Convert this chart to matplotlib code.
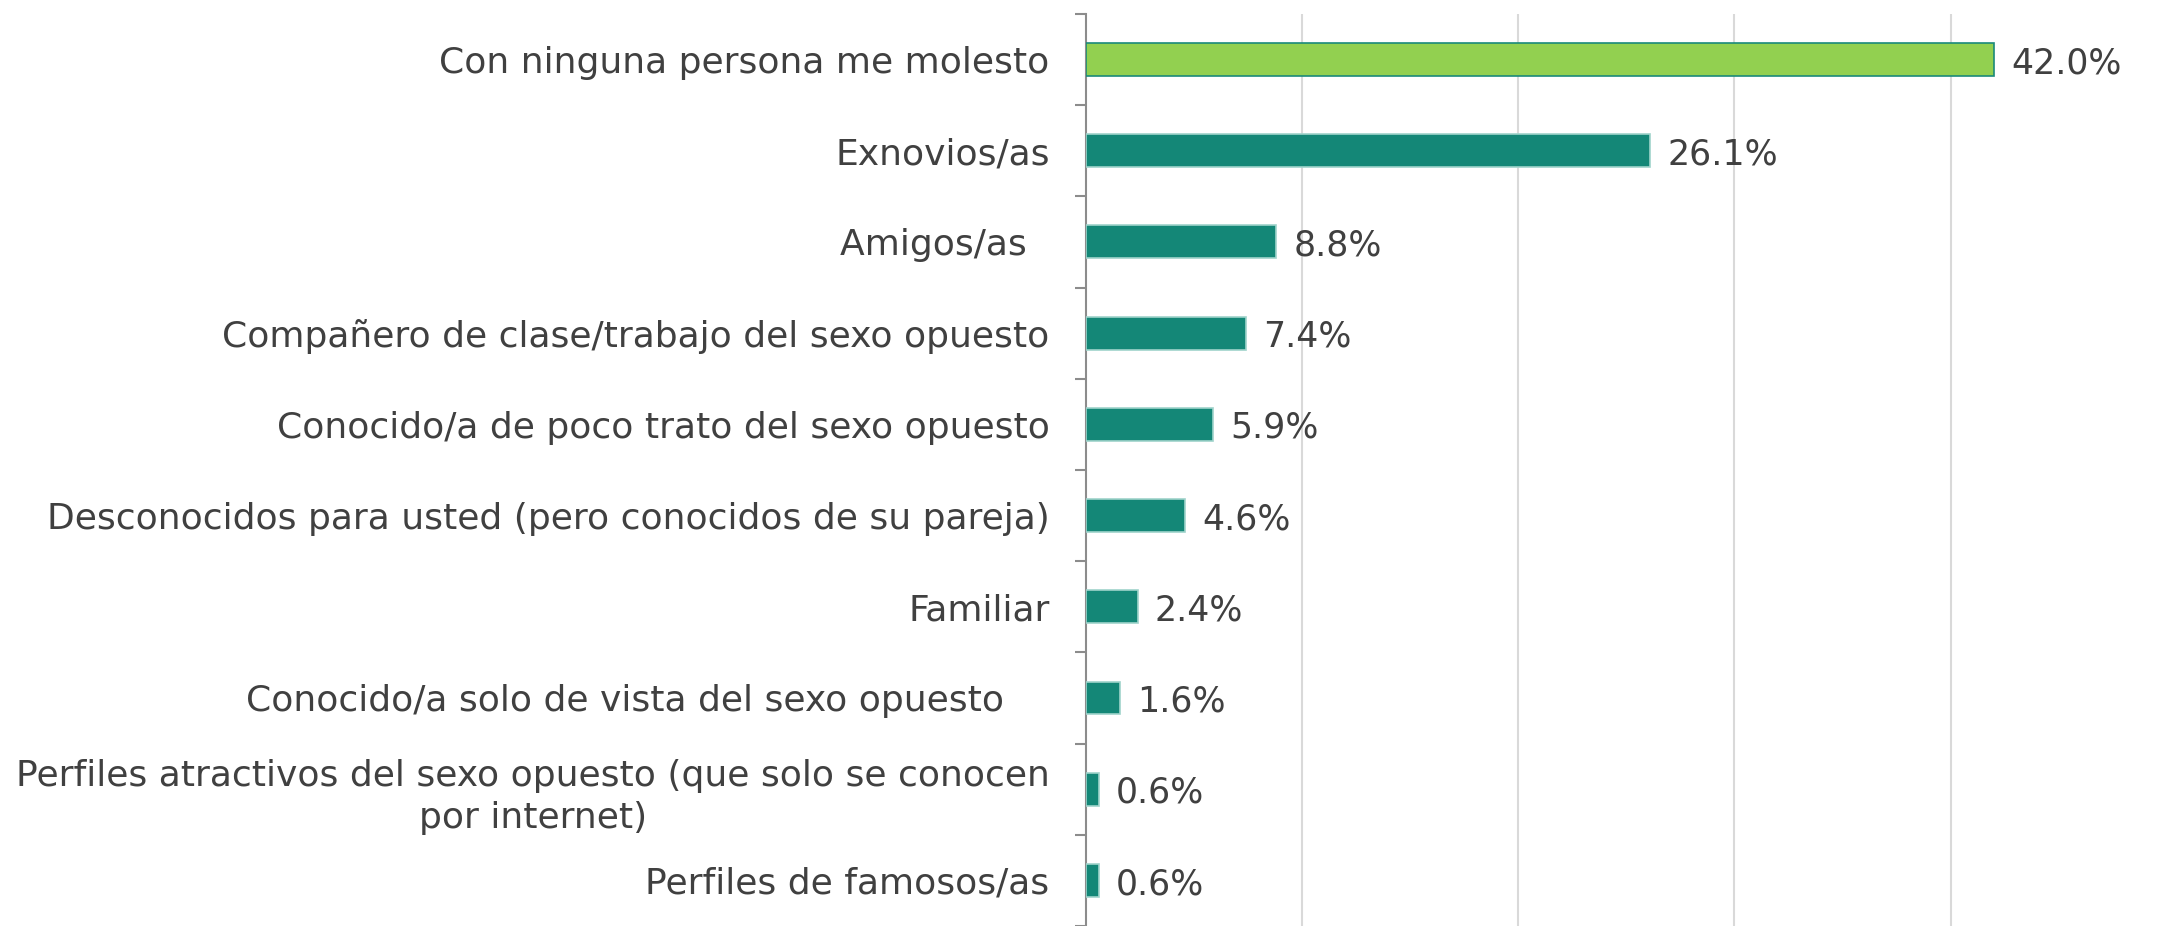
import matplotlib.pyplot as plt
import numpy as np

categorias = ["Con ninguna persona me molesto",
              "Exnovios/as",
              "Amigos/as  ",
              "Compañero de clase/trabajo del sexo opuesto",
              "Conocido/a de poco trato del sexo opuesto",
              "Desconocidos para usted (pero conocidos de su pareja)",
              "Familiar",
              "Conocido/a solo de vista del sexo opuesto    ",
              "Perfiles atractivos del sexo opuesto (que solo se conocen\npor internet)",
              "Perfiles de famosos/as"]
valores = [42.0, 26.1, 8.8, 7.4, 5.9, 4.6, 2.4, 1.6, 0.6, 0.6]
etiquetas = ["42.0%", "26.1%", "8.8%", "7.4%", "5.9%", "4.6%", "2.4%", "1.6%", "0.6%", "0.6%"]

plt.rcParams['font.family'] = ['DejaVu Sans']
texto = '#404040'

fig = plt.figure(figsize=(21.67, 9.26), dpi=100)
ax = fig.add_axes([0.501, 0.0, 0.499, 0.985])

y = np.arange(len(categorias))
colores = ['#92D050'] + ['#148777'] * (len(valores) - 1)
bordes = ['#1a8a7a'] + ['#9fd3cb'] * (len(valores) - 1)
ax.barh(y, valores, height=0.36, color=colores, edgecolor=bordes, linewidth=1.2, zorder=3)

for i in range(len(valores)):
    ax.text(valores[i] + 0.8, y[i] + 0.04, etiquetas[i], va='center', ha='left',
            fontsize=25, color=texto, zorder=4)

ax.set_xlim(0, 50)
ax.set_ylim(len(categorias) - 0.5, -0.5)
ax.set_xticks([10, 20, 30, 40])
ax.xaxis.grid(True, color='#d9d9d9', linewidth=1.5, zorder=0)
ax.tick_params(axis='x', length=0, labelbottom=False)

ax.set_yticks(y)
ax.set_yticklabels(categorias, fontsize=26, color=texto, multialignment='center',
                   linespacing=1.3)
ax.set_yticks(np.arange(len(categorias) + 1) - 0.5, minor=True)
ax.tick_params(axis='y', which='major', length=0, pad=26)
ax.tick_params(axis='y', which='minor', length=8, width=1.5, color='#8c8c8c')

for s in ['top', 'right', 'bottom']:
    ax.spines[s].set_visible(False)
ax.spines['left'].set_color('#8c8c8c')
ax.spines['left'].set_linewidth(1.5)

fig.savefig('out.png', dpi=100)
